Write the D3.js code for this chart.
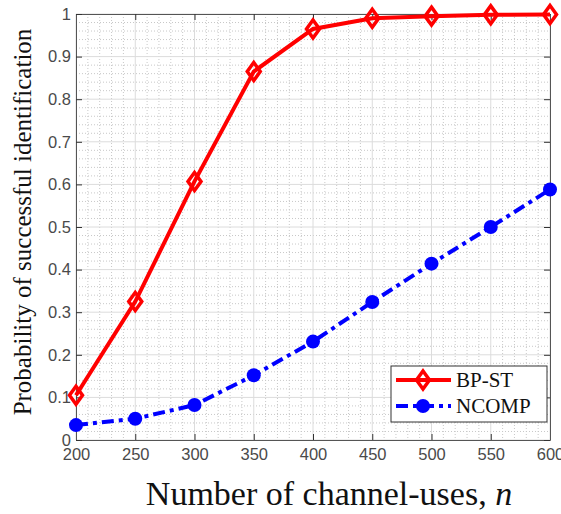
<!DOCTYPE html>
<html><head><meta charset="utf-8">
<script src="https://cdn.jsdelivr.net/npm/d3@7"></script>
<style>body{margin:0;background:#fff}</style>
</head><body>
<svg id="c" width="561" height="514"></svg>
<script>
const nValues = [200, 250, 300, 350, 400, 450, 500, 550, 600];
const bpst = [0.105, 0.325, 0.607, 0.865, 0.965, 0.990, 0.995, 0.998, 0.999];
const ncomp = [0.035, 0.050, 0.082, 0.152, 0.231, 0.324, 0.414, 0.500, 0.588];
const xTicks = [200, 250, 300, 350, 400, 450, 500, 550, 600];
const yTicks = [0, 0.1, 0.2, 0.3, 0.4, 0.5, 0.6, 0.7, 0.8, 0.9, 1];
const seriesNames = ["BP-ST", "NCOMP"];

const svg = d3.select("#c");
const L = 76, R = 550, T = 14, B = 440;
const x = d3.scaleLinear().domain([200, 600]).range([L, R]);
const y = d3.scaleLinear().domain([0, 1]).range([B, T]);

// minor grid
const xMinor = d3.range(200, 601, 10).filter(v => v % 50 !== 0);
const yMinor = d3.range(0, 1.0001, 0.02).filter(v => Math.abs(v * 10 - Math.round(v * 10)) > 1e-6);
const g = svg.append("g");
g.selectAll(".xm").data(xMinor).join("line")
  .attr("x1", d => x(d)).attr("x2", d => x(d)).attr("y1", T).attr("y2", B)
  .attr("stroke", "#c8c8c8").attr("stroke-width", 1).attr("stroke-dasharray", "1,2");
g.selectAll(".ym").data(yMinor).join("line")
  .attr("y1", d => y(d)).attr("y2", d => y(d)).attr("x1", L).attr("x2", R)
  .attr("stroke", "#c8c8c8").attr("stroke-width", 1).attr("stroke-dasharray", "1,2");
// major grid
g.selectAll(".xM").data(xTicks).join("line")
  .attr("x1", d => x(d)).attr("x2", d => x(d)).attr("y1", T).attr("y2", B)
  .attr("stroke", "#dcdcdc").attr("stroke-width", 1);
g.selectAll(".yM").data(yTicks).join("line")
  .attr("y1", d => y(d)).attr("y2", d => y(d)).attr("x1", L).attr("x2", R)
  .attr("stroke", "#dcdcdc").attr("stroke-width", 1);

// axes
const tickFont = g => g.selectAll("text").attr("font-family", "Liberation Sans, Arial, sans-serif")
  .attr("font-size", 16.5).attr("fill", "#4a4a4a");
const ax = g => { g.select(".domain").attr("stroke", "#555"); g.selectAll(".tick line").attr("stroke", "#333"); };
svg.append("g").attr("transform", `translate(0,${B})`)
  .call(d3.axisBottom(x).tickValues(xTicks).tickSize(-6).tickPadding(8).tickSizeOuter(0))
  .call(tickFont).call(ax);
svg.append("g").attr("transform", `translate(0,${T})`)
  .call(d3.axisTop(x).tickValues(xTicks).tickSize(-6).tickFormat("").tickSizeOuter(0)).call(ax);
svg.append("g").attr("transform", `translate(${L},0)`)
  .call(d3.axisLeft(y).tickValues(yTicks).tickSize(-6).tickPadding(5).tickSizeOuter(0).tickFormat(d => d === 0 ? "0" : d === 1 ? "1" : d3.format(".1f")(d)))
  .call(tickFont).call(ax);
svg.append("g").attr("transform", `translate(${R},0)`)
  .call(d3.axisRight(y).tickValues(yTicks).tickSize(-6).tickFormat("").tickSizeOuter(0)).call(ax);

// lines
const line = d3.line().x(d => x(d[0])).y(d => y(d[1]));
const dBP = nValues.map((n, i) => [n, bpst[i]]);
const dNC = nValues.map((n, i) => [n, ncomp[i]]);
const dashNC = "12,5,4,5";
svg.append("path").datum(dNC).attr("d", line).attr("fill", "none")
  .attr("stroke", "#0000ff").attr("stroke-width", 4).attr("stroke-dasharray", dashNC);
svg.selectAll(".nc").data(dNC).join("circle")
  .attr("cx", d => x(d[0])).attr("cy", d => y(d[1])).attr("r", 7).attr("fill", "#0000ff");
svg.append("path").datum(dBP).attr("d", line).attr("fill", "none")
  .attr("stroke", "#ff0000").attr("stroke-width", 4);
const diamond = (cx, cy) => `M${cx},${cy - 9}L${cx + 6.5},${cy}L${cx},${cy + 9}L${cx - 6.5},${cy}Z`;
svg.selectAll(".bp").data(dBP).join("path")
  .attr("d", d => diamond(x(d[0]), y(d[1]))).attr("fill", "none")
  .attr("stroke", "#ff0000").attr("stroke-width", 3.5);

// legend
const lg = svg.append("g");
lg.append("rect").attr("x", 391).attr("y", 366).attr("width", 156).attr("height", 56)
  .attr("fill", "#fff").attr("stroke", "#333").attr("stroke-width", 1);
lg.append("line").attr("x1", 396).attr("x2", 451).attr("y1", 380).attr("y2", 380)
  .attr("stroke", "#ff0000").attr("stroke-width", 4);
lg.append("path").attr("d", diamond(423, 380)).attr("fill", "none").attr("stroke", "#ff0000").attr("stroke-width", 3.5);
lg.append("line").attr("x1", 396).attr("x2", 451).attr("y1", 406).attr("y2", 406)
  .attr("stroke", "#0000ff").attr("stroke-width", 4).attr("stroke-dasharray", dashNC);
lg.append("circle").attr("cx", 423).attr("cy", 406).attr("r", 7).attr("fill", "#0000ff");
lg.selectAll("text").data(seriesNames).join("text")
  .attr("x", 456).attr("y", (d, i) => 387 + i * 26).text(d => d)
  .attr("font-family", "Liberation Serif, Times New Roman, serif").attr("font-size", 21).attr("fill", "#111");

// axis labels
svg.append("text").attr("transform", "translate(31,222) rotate(-90)").attr("text-anchor", "middle")
  .attr("font-family", "Liberation Serif, Times New Roman, serif").attr("font-size", 25).attr("fill", "#111")
  .text("Probability of successful identification");
const xl = svg.append("text").attr("x", 329).attr("y", 505).attr("text-anchor", "middle")
  .attr("font-family", "Liberation Serif, Times New Roman, serif").attr("font-size", 34).attr("fill", "#111");
xl.append("tspan").text("Number of channel-uses, ");
xl.append("tspan").attr("font-style", "italic").text("n");
</script>
</body></html>
